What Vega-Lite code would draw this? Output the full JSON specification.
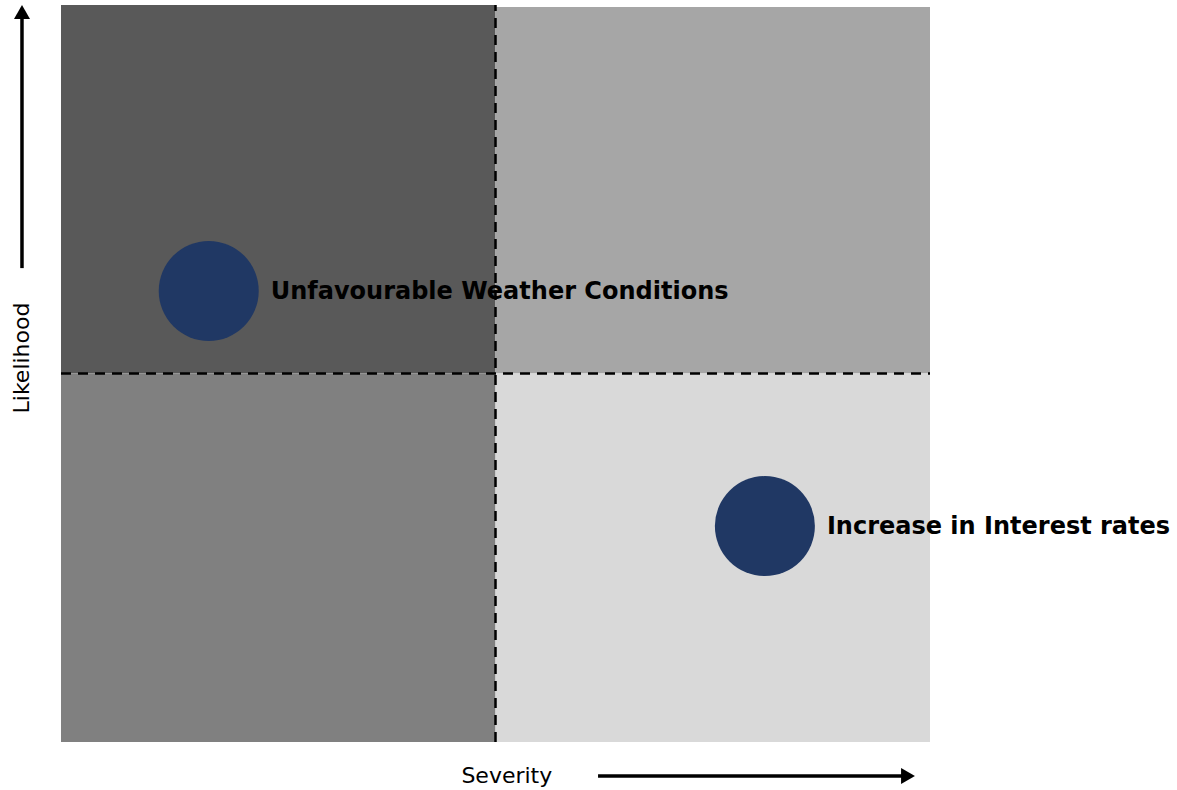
{
  "$schema": "https://vega.github.io/schema/vega-lite/v6.json",
  "width": 869,
  "height": 737,
  "autosize": {"type": "none"},
  "padding": {"left": 61, "top": 5, "right": 247, "bottom": 48},
  "background": "white",
  "config": {"view": {"stroke": null}},
  "datasets": {
    "quadrants": [
      {"x": 0, "x2": 5, "y": 5, "y2": 10, "fill": "#595959"},
      {"x": 5, "x2": 10, "y": 5, "y2": 9.973, "fill": "#a6a6a6"},
      {"x": 0, "x2": 5, "y": 0, "y2": 5, "fill": "#808080"},
      {"x": 5, "x2": 10, "y": 0, "y2": 5, "fill": "#d9d9d9"}
    ],
    "risks": [
      {"risk": "Unfavourable Weather Conditions", "severity": 1.70, "likelihood": 6.12},
      {"risk": "Increase in Interest rates", "severity": 8.10, "likelihood": 2.93}
    ],
    "dividers": [
      {"x": 5, "x2": 5, "y": 0, "y2": 10},
      {"x": 0, "x2": 10, "y": 5, "y2": 5}
    ],
    "arrowLines": [
      {"x": -0.449, "x2": -0.449, "y": 6.43, "y2": 9.85},
      {"x": 6.18, "x2": 9.70, "y": -0.461, "y2": -0.461}
    ],
    "arrowHeads": [
      {"x": -0.449, "y": 9.905, "shape": "triangle-up"},
      {"x": 9.747, "y": -0.461, "shape": "triangle-right"}
    ],
    "axisTitles": [
      {"label": "Likelihood", "x": -0.449, "y": 5.21, "angle": 270},
      {"label": "Severity", "x": 5.13, "y": -0.461, "angle": 0}
    ]
  },
  "layer": [
    {
      "data": {"name": "quadrants"},
      "mark": {"type": "rect"},
      "encoding": {
        "x": {"field": "x", "type": "quantitative", "scale": {"domain": [0, 10], "nice": false, "zero": false}, "axis": null},
        "x2": {"field": "x2"},
        "y": {"field": "y", "type": "quantitative", "scale": {"domain": [0, 10], "nice": false, "zero": false}, "axis": null},
        "y2": {"field": "y2"},
        "fill": {"field": "fill", "type": "nominal", "scale": null}
      }
    },
    {
      "data": {"name": "risks"},
      "mark": {"type": "point", "shape": "circle", "filled": true, "opacity": 1, "size": 10000, "color": "#203864"},
      "encoding": {
        "x": {"field": "severity", "type": "quantitative"},
        "y": {"field": "likelihood", "type": "quantitative"}
      }
    },
    {
      "data": {"name": "risks"},
      "mark": {"type": "text", "align": "left", "baseline": "middle", "dx": 62, "dy": 1, "font": "DejaVu Sans", "fontWeight": "bold", "fontSize": 24, "color": "black"},
      "encoding": {
        "x": {"field": "severity", "type": "quantitative"},
        "y": {"field": "likelihood", "type": "quantitative"},
        "text": {"field": "risk"}
      }
    },
    {
      "data": {"name": "dividers"},
      "mark": {"type": "rule", "color": "black", "strokeWidth": 2.5, "strokeDash": [10, 7]},
      "encoding": {
        "x": {"field": "x", "type": "quantitative"},
        "x2": {"field": "x2"},
        "y": {"field": "y", "type": "quantitative"},
        "y2": {"field": "y2"}
      }
    },
    {
      "data": {"name": "arrowLines"},
      "mark": {"type": "rule", "color": "black", "strokeWidth": 3.5, "clip": false},
      "encoding": {
        "x": {"field": "x", "type": "quantitative"},
        "x2": {"field": "x2"},
        "y": {"field": "y", "type": "quantitative"},
        "y2": {"field": "y2"}
      }
    },
    {
      "data": {"name": "arrowHeads"},
      "mark": {"type": "point", "filled": true, "opacity": 1, "size": 256, "color": "black", "clip": false},
      "encoding": {
        "x": {"field": "x", "type": "quantitative"},
        "y": {"field": "y", "type": "quantitative"},
        "shape": {"field": "shape", "type": "nominal", "scale": null}
      }
    },
    {
      "data": {"name": "axisTitles"},
      "mark": {"type": "text", "align": "center", "baseline": "middle", "font": "DejaVu Sans", "fontSize": 22, "color": "black", "clip": false},
      "encoding": {
        "x": {"field": "x", "type": "quantitative"},
        "y": {"field": "y", "type": "quantitative"},
        "text": {"field": "label"},
        "angle": {"field": "angle", "type": "quantitative", "scale": null}
      }
    }
  ]
}
